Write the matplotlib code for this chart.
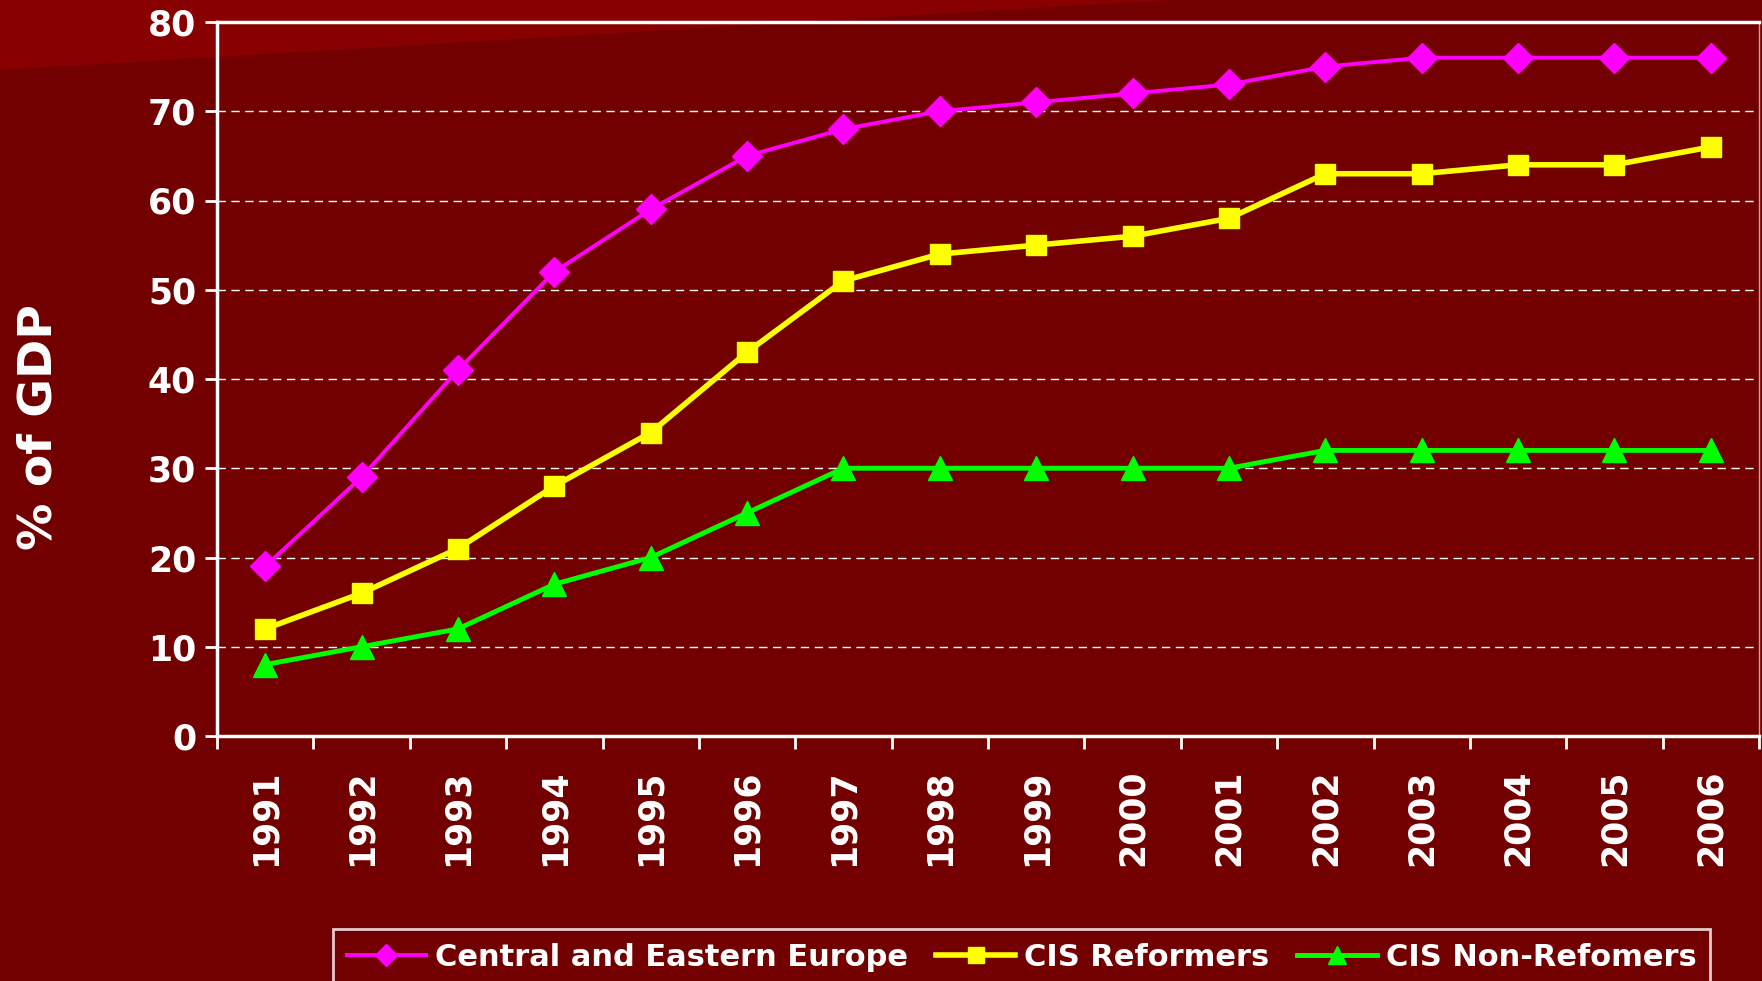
import matplotlib
matplotlib.use("Agg")
import matplotlib.pyplot as plt
from matplotlib.patches import Polygon
import numpy as np

years = [str(y) for y in range(1991, 2007)]
cee = [19, 29, 41, 52, 59, 65, 68, 70, 71, 72, 73, 75, 76, 76, 76, 76]
cis_ref = [12, 16, 21, 28, 34, 43, 51, 54, 55, 56, 58, 63, 63, 64, 64, 66]
cis_nonref = [8, 10, 12, 17, 20, 25, 30, 30, 30, 30, 30, 32, 32, 32, 32, 32]

bg = "#730000"
W, H = 1762, 981
plt.rcParams['font.family'] = ['DejaVu Sans']
plt.rcParams['font.weight'] = 'bold'

fig = plt.figure(figsize=(W / 100, H / 100), dpi=100, facecolor=bg)

# lighter band top-left
band = Polygon([(0, 1), (0, 1 - 70 / H), (1170 / W, 1)],
               closed=True, transform=fig.transFigure, facecolor="#880000",
               edgecolor="none", zorder=-5)
fig.patches.append(band)

ax = fig.add_axes([217 / W, 1 - 736 / H, (1759 - 217) / W, (736 - 22) / H])
ax.set_facecolor("none")
ax.set_zorder(2)

x = np.arange(len(years))
ax.plot(x, cee, color="#ff00ff", lw=2.8, marker="D", ms=15, label="Central and Eastern Europe", zorder=3)
ax.plot(x, cis_ref, color="#ffff00", lw=4, marker="s", ms=15, label="CIS Reformers", zorder=3)
ax.plot(x, cis_nonref, color="#00ff00", lw=3.5, marker="^", ms=17, label="CIS Non-Refomers", zorder=3)

ax.set_xlim(-0.5, len(years) - 0.5)
ax.set_ylim(0, 80)
ax.set_yticks(range(0, 81, 10))
ax.set_yticklabels([str(v) for v in range(0, 81, 10)], color="white", fontsize=25, fontweight="bold")
ax.set_xticks(x)
ax.set_xticklabels(years, rotation=90, color="white", fontsize=25, fontweight="bold")
ax.set_xticks(np.arange(-0.5, len(years)), minor=True)
ax.tick_params(axis="x", which="major", length=0, pad=24)
ax.tick_params(axis="x", which="minor", length=9, width=2, color="white", direction="out")
ax.tick_params(axis="y", length=9, width=2, color="white", pad=6)

for y in range(10, 80, 10):
    ax.axhline(y, color="white", lw=1, ls=(0, (6, 4)), zorder=1)

for s in ["top", "left", "bottom"]:
    ax.spines[s].set_color("white")
    ax.spines[s].set_linewidth(2.5)
ax.spines["right"].set_color("#c8a0a0")
ax.spines["right"].set_linewidth(1)

fig.text(39 / W, 1 - 427 / H, "% of GDP", rotation=90, color="white", fontsize=34,
         fontweight="bold", ha="center", va="center")

leg = fig.legend(loc="upper left", bbox_to_anchor=(333 / W, 1 - 929 / H), ncol=3,
                 frameon=True, fontsize=22, handlelength=2.6, columnspacing=0.9,
                 handletextpad=0.3, borderpad=0.45, borderaxespad=0, fancybox=False,
                 markerscale=0.75)
leg.get_frame().set_facecolor(bg)
leg.get_frame().set_edgecolor("white")
leg.get_frame().set_linewidth(2)
for t in leg.get_texts():
    t.set_color("white")
    t.set_fontweight("bold")

fig.savefig("out.png", dpi=100, facecolor=bg)
